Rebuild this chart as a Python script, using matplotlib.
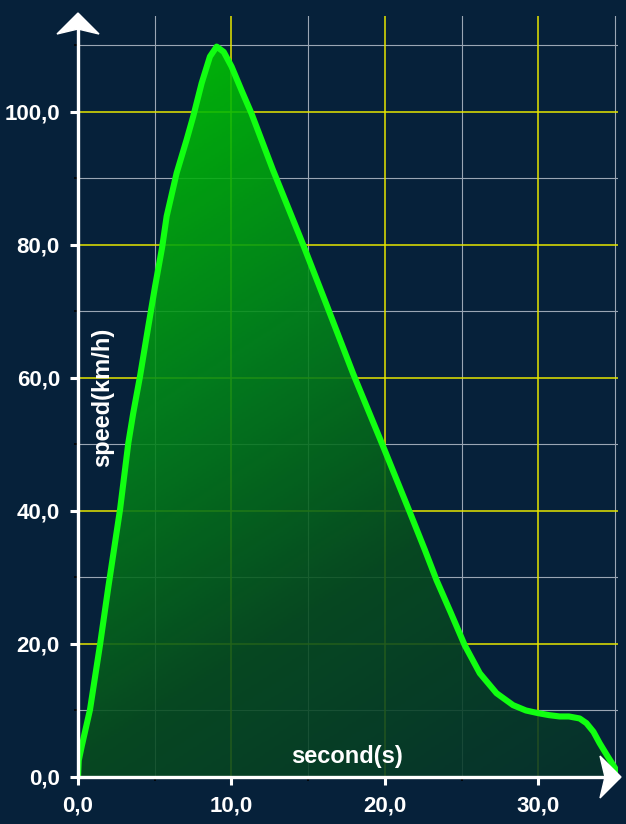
import numpy as np
import matplotlib
matplotlib.use('Agg')
import matplotlib.pyplot as plt
from matplotlib.colors import LinearSegmentedColormap
from matplotlib.patches import Polygon

# speed curve
time_s = [0.0, 0.05, 0.24, 0.78, 1.43, 1.98, 2.74, 3.28, 3.6, 4.04, 4.58, 5.02,
          5.49, 5.78, 6.43, 7.08, 7.51, 8.06, 8.6, 9.04, 9.5, 10.01, 10.7, 11.3,
          12.7, 14.68, 16.2, 17.94, 19.89, 21.63, 22.6, 23.37, 24.3, 25.21, 26.19,
          27.28, 28.36, 29.2, 29.99, 30.7, 31.4, 32.0, 32.7, 33.14, 33.6, 34.0,
          34.5, 35.1]
speed_kmh = [0, 2.5, 4.6, 10.1, 19.8, 28.6, 40.2, 50.2, 54.7, 60.2, 67.7, 73.7,
             79.7, 84.3, 90.8, 95.8, 99.3, 104.3, 108.3, 109.8, 109.0, 106.8, 103.0, 99.8,
             91.3, 80.0, 71.0, 60.6, 49.7, 39.8, 34.2, 29.6, 24.7, 19.8, 15.6,
             12.6, 10.8, 10.0, 9.6, 9.3, 9.1, 9.1, 8.8, 8.1, 6.8, 5.1,
             3.2, 1.0]

x_major = [0, 10, 20, 30]
x_minor = [5, 15, 25, 35]
y_major = [0, 20, 40, 60, 80, 100]
y_minor = [10, 30, 50, 70, 90, 110]

BG = '#06213a'
XMAX, YMAX = 35.2, 114.4

plt.rcParams['font.family'] = ['Liberation Sans', 'DejaVu Sans']

W, H = 626, 824
fig = plt.figure(figsize=(W / 100, H / 100), dpi=100, facecolor=BG)
ax = fig.add_axes([78 / W, 47 / H, 540 / W, 761 / H], facecolor=BG)
ax.set_xlim(0, XMAX)
ax.set_ylim(0, YMAX)

# grid
for v in x_minor:
    ax.axvline(v, color='#9aa6b4', lw=0.8, zorder=1)
for v in y_minor:
    ax.axhline(v, color='#9aa6b4', lw=0.8, zorder=1)
for v in x_major[1:]:
    ax.axvline(v, color='#e6e600', lw=1.1, zorder=1)
for v in y_major[1:]:
    ax.axhline(v, color='#e6e600', lw=1.1, zorder=1)

# gradient fill under the curve
gx = np.linspace(0, XMAX, 300)
gy = np.linspace(0, YMAX, 400)
GX, GY = np.meshgrid(gx, gy)
px = GX * 15.35
py = (YMAX - GY) * 6.65
t = ((px - 72) * 465 + (py - 30) * 730) / 749125.0
t = np.clip(t, 0, 1)
cmap = LinearSegmentedColormap.from_list('g', [(0, '#00cc00'), (0.35, '#028a18'),
                                               (0.65, '#074e1e'), (1.0, '#06322c')])
img = ax.imshow(t, extent=[0, XMAX, 0, YMAX], origin='lower', aspect='auto',
                cmap=cmap, vmin=0, vmax=1, alpha=0.88, zorder=2)
verts = np.vstack([np.column_stack([time_s, speed_kmh]),
                   [[time_s[-1], 0], [time_s[0], 0]]])
clip = Polygon(verts, closed=True, transform=ax.transData)
img.set_clip_path(clip)

ax.plot(time_s, speed_kmh, color='#11ff11', lw=4.4, solid_capstyle='round',
        solid_joinstyle='round', zorder=4)

# spines and ticks
for s in ['top', 'right']:
    ax.spines[s].set_visible(False)
for s in ['left', 'bottom']:
    ax.spines[s].set_color('white')
    ax.spines[s].set_linewidth(2.4)
    ax.spines[s].set_zorder(5)

ax.set_xticks(x_major)
ax.set_xticklabels([('%.1f' % v).replace('.', ',') for v in x_major])
ax.set_yticks(y_major)
ax.set_yticklabels([('%.1f' % v).replace('.', ',') for v in y_major])
ax.set_xticks(x_minor[:-1], minor=True)
ax.set_yticks(y_minor, minor=True)
ax.tick_params(which='major', colors='white', length=6, width=2.2, pad=7,
               labelsize=16)
ax.tick_params(which='minor', color='black', length=3, width=1.2)
for lab in ax.get_xticklabels() + ax.get_yticklabels():
    lab.set_fontweight('bold')

# arrow heads
up = Polygon([[78 / W, 1 - 13 / H], [57 / W, 1 - 34 / H], [78 / W, 1 - 29 / H],
              [99 / W, 1 - 34 / H]], closed=True, transform=fig.transFigure,
             color='white', zorder=6)
right = Polygon([[621 / W, 1 - 777 / H], [600 / W, 1 - 756 / H], [605 / W, 1 - 777 / H],
                 [600 / W, 1 - 798 / H]], closed=True, transform=fig.transFigure,
                color='white', zorder=6)
fig.patches.extend([up, right])

fig.text(347 / W, 1 - 757 / H, 'second(s)', color='white', fontsize=17,
         fontweight='bold', ha='center', va='center')
fig.text(103 / W, 1 - 397 / H, 'speed(km/h)', color='white', fontsize=17,
         fontweight='bold', ha='center', va='center', rotation=90)

fig.savefig('out.png', dpi=100, facecolor=BG)
